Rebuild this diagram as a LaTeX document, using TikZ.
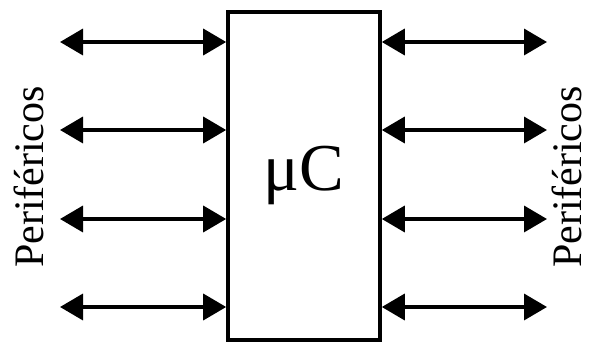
\documentclass[tikz,border=0pt]{standalone}
\usepackage{fontspec}
\setmainfont{Liberation Serif}
\usetikzlibrary{arrows.meta}
\begin{document}
\begin{tikzpicture}[x=1pt,y=1pt,
  biarrow/.style={line width=3.6pt,{Triangle[length=23pt,width=26pt]}-{Triangle[length=23pt,width=26pt]}},
  mcbox/.style={draw,line width=3.6pt,minimum width=152pt,minimum height=328pt,inner sep=0pt},
  perif/.style={rotate=90,anchor=base,font=\fontsize{42}{42}\selectfont,inner sep=0pt}]
\useasboundingbox (0,0) rectangle (590,343);
\node[mcbox] (mc) at (304,167) {};
\node[font=\fontsize{67}{67}\selectfont] (lab) at (304,168) {μC};
\foreach \y [count=\i] in {301,213,124,36}{
  \coordinate (L\i) at (60,\y);
  \coordinate (R\i) at (547,\y);
  \draw[biarrow] (L\i) -- (mc.west |- L\i);
  \draw[biarrow] (mc.east |- R\i) -- (R\i);
}
\node[perif] (pl) at (43,166) {Periféricos};
\node[perif] (pr) at (581,166) {Periféricos};
\end{tikzpicture}
\end{document}
